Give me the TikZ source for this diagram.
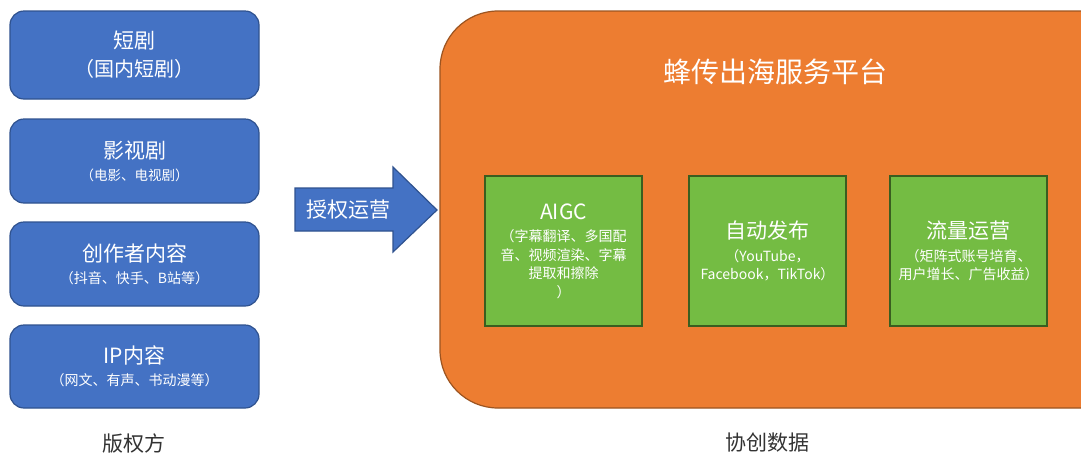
\documentclass[tikz,border=0pt]{standalone}
\usepackage{fontspec}
\setmainfont{Noto Sans CJK SC}
\definecolor{bfill}{HTML}{4472C4}
\definecolor{bline}{HTML}{2F528F}
\definecolor{ofill}{HTML}{ED7D31}
\definecolor{oline}{HTML}{9C5420}
\definecolor{gfill}{HTML}{74BC43}
\definecolor{gline}{HTML}{3A5E20}
\definecolor{lab}{HTML}{333333}
\newcommand{\fsz}[2]{\fontsize{#1pt}{#2pt}\selectfont\lineskiplimit=-100pt\relax}
\newcommand{\sm}{\fsz{14}{18.5}}
\newcommand{\featxt}[2]{\raisebox{-4pt}{\parbox[c]{155pt}{\centering\fsz{21}{26}#1\par\vspace{4pt}\sm #2\par}}}
\tikzset{
  srcbox/.style={draw=bline, fill=bfill, line width=1.2pt, rounded corners=14pt,
    minimum width=249pt, text=white, align=center, inner sep=0pt, font=\fsz{21}{28}},
  featbox/.style={draw=gline, fill=gfill, line width=1.2pt, minimum width=157pt,
    minimum height=150pt, text=white, inner sep=0pt},
  caption/.style={text=lab, font=\fsz{21}{26}},
}
\begin{document}
\begin{tikzpicture}[x=1pt,y=-1pt]
\useasboundingbox (0,0) rectangle (1081,459);
\clip (0,0) rectangle (1081,459);
% source boxes
\node[srcbox, minimum height=88pt] (b1) at (134.5,55) {短剧\\[0pt]\fsz{20}{26}（国内短剧）};
\node[srcbox, minimum height=84pt] (b2) at (134.5,161) {影视剧\\[-6pt]\fsz{13.5}{18}（电影、电视剧）};
\node[srcbox, minimum height=84pt] (b3) at (134.5,264) {创作者内容\\[-6pt]\sm（抖音、快手、B站等）};
\node[srcbox, minimum height=83pt] (b4) at (134.5,366.5) {IP内容\\[-6pt]\sm（网文、有声、书动漫等）};
\node[caption] (c1) at (134,443) {版权方};
% arrow
\draw[draw=bline, fill=bfill, line width=1.2pt]
  (295,188) -- (393,188) -- (393,167) -- (437,210) -- (393,252) -- (393,231) -- (295,231) -- cycle;
\node[text=white, font=\fsz{21}{26}] (arr) at (348,210) {授权运营};
% platform
\draw[draw=oline, fill=ofill, line width=1.2pt, rounded corners=58pt] (440,11) rectangle (1140,408);
\node[text=white, font=\fsz{28}{34}] (title) at (775,72) {蜂传出海服务平台};
\node[featbox] (g1) at (563.5,251) {\featxt{AIGC}{（字幕翻译、多国配\\音、视频渲染、字幕\\提取和擦除\\）}};
\node[featbox] (g2) at (767.5,251) {\featxt{自动发布}{（YouTube，\\Facebook，TikTok）}};
\node[featbox] (g3) at (968.5,251) {\featxt{流量运营}{（矩阵式账号培育、\\用户增长、广告收益）}};
\node[caption] (c2) at (767,443) {协创数据};
\end{tikzpicture}
\end{document}
